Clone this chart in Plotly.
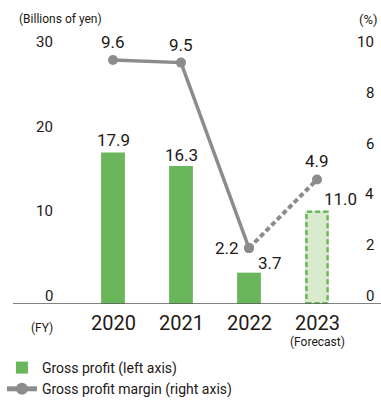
import plotly.graph_objects as go

# ---- data ----
years = ["2020", "2021", "2022", "2023"]
gross_profit = [17.9, 16.3, 3.7, 11.0]          # billions of yen (2023 = forecast)
gross_margin = [9.6, 9.5, 2.2, 4.9]             # %
left_ticks = [0, 10, 20, 30]
right_ticks = [0, 2, 4, 6, 8, 10]

# ---- style ----
GREEN = "#6ab65a"
GREEN_LIGHT = "#d9eacf"
GREY = "#8c8c8c"
TEXT = "#231815"
FONT = "Liberation Sans Narrow, Arial Narrow, Roboto, sans-serif"

W, H = 381, 400
M_L, M_R, M_T, M_B = 13, 0, 40, 96
PX_PER_UNIT = 8.47                       # pixels per billion yen
plot_h = H - M_T - M_B
plot_w = W - M_L - M_R
y_top = plot_h / PX_PER_UNIT
slot = 68                                # pixels between categories
x_lo = -(113 - M_L) / slot
x_hi = x_lo + plot_w / slot
bar_w = 0.35
idx = list(range(len(years)))

# label offsets (pixels) for value labels
bar_lbl_dx = [0, 0, 21, 23]
bar_lbl_dy = [12, 11, 10, 12]
line_lbl_dx = [0, 0, -22, 0]
line_lbl_dy = [18, 18, 0, 18]

fig = go.Figure()

# actual gross profit bars
fig.add_trace(go.Bar(
    x=idx[:3], y=gross_profit[:3], width=bar_w,
    marker=dict(color=GREEN, line=dict(width=0)),
    name="Gross profit (left axis)", yaxis="y",
))
# forecast bar (light fill, dashed outline drawn as a shape)
fig.add_trace(go.Bar(
    x=idx[3:], y=gross_profit[3:], width=bar_w,
    marker=dict(color=GREEN_LIGHT, line=dict(width=0)),
    showlegend=False, yaxis="y",
))
fig.add_shape(
    type="rect", xref="x", yref="y",
    x0=idx[3] - bar_w / 2 + 0.02, x1=idx[3] + bar_w / 2 - 0.02, y0=0.1, y1=gross_profit[3] - 0.1,
    line=dict(color=GREEN, width=2.5, dash="5px,3px"),
)

# gross profit margin: actuals solid, forecast segment dashed
fig.add_trace(go.Scatter(
    x=idx[2:], y=gross_margin[2:], yaxis="y2", mode="lines+markers",
    line=dict(color=GREY, width=4, dash="5px,3px"),
    marker=dict(color=GREY, size=10), showlegend=False, cliponaxis=False,
))
fig.add_trace(go.Scatter(
    x=idx[:3], y=gross_margin[:3], yaxis="y2", mode="lines+markers",
    line=dict(color=GREY, width=3.5),
    marker=dict(color=GREY, size=10),
    name="Gross profit margin (right axis)", cliponaxis=False,
))

ann = []
# value labels
for i, v in enumerate(gross_profit):
    ann.append(dict(x=idx[i], y=v, xref="x", yref="y", text=f"{v:.1f}", showarrow=False,
                    xshift=bar_lbl_dx[i], yshift=bar_lbl_dy[i], yanchor="middle",
                    font=dict(size=17, color=TEXT)))
for i, v in enumerate(gross_margin):
    ann.append(dict(x=idx[i], y=v, xref="x", yref="y2", text=f"{v:.1f}", showarrow=False,
                    xshift=line_lbl_dx[i], yshift=line_lbl_dy[i], yanchor="middle",
                    font=dict(size=17, color=TEXT)))
# axis tick labels
for t in left_ticks:
    ann.append(dict(x=(55 - M_L) / plot_w, y=t, xref="paper", yref="y", text=str(t),
                    showarrow=False, xanchor="right", yanchor="middle", yshift=8,
                    font=dict(size=15, color=TEXT)))
for t in right_ticks:
    ann.append(dict(x=(376 - M_L) / plot_w, y=t, xref="paper", yref="y2", text=str(t),
                    showarrow=False, xanchor="right", yanchor="middle", yshift=8,
                    font=dict(size=15, color=TEXT)))
# year labels
for i, yr in enumerate(years):
    ann.append(dict(x=idx[i], y=0, xref="x", yref="paper", text=yr, showarrow=False,
                    yanchor="middle", yshift=-19, font=dict(size=20, color=TEXT)))
ann.append(dict(x=idx[3], y=0, xref="x", yref="paper", text="(Forecast)", showarrow=False,
                yanchor="middle", yshift=-38, font=dict(size=12, color=TEXT)))
ann.append(dict(x=(29 - M_L) / plot_w, y=0, xref="paper", yref="paper", text="(FY)",
                showarrow=False, yanchor="middle", yshift=-24, font=dict(size=12, color=TEXT)))
# unit labels
ann.append(dict(x=(17 - M_L) / plot_w, y=1, xref="paper", yref="paper", text="(Billions of yen)",
                showarrow=False, xanchor="left", yanchor="middle", yshift=M_T - 19,
                font=dict(size=12, color=TEXT)))
ann.append(dict(x=(380 - M_L) / plot_w, y=1, xref="paper", yref="paper", text="(%)",
                showarrow=False, xanchor="right", yanchor="middle", yshift=M_T - 19,
                font=dict(size=13, color=TEXT)))

# baseline
fig.add_shape(type="line", xref="paper", yref="y", x0=0, x1=1, y0=0, y1=0,
              line=dict(color="#595757", width=1.5), layer="above")

fig.update_layout(
    width=W, height=H,
    margin=dict(l=M_L, r=M_R, t=M_T, b=M_B, autoexpand=False),
    paper_bgcolor="white", plot_bgcolor="white",
    font=dict(family=FONT, color=TEXT),
    barmode="overlay",
    xaxis=dict(range=[x_lo, x_hi], showticklabels=False,
               showgrid=False, zeroline=False, showline=False, ticks=""),
    yaxis=dict(range=[0, y_top], showticklabels=False, showgrid=False,
               zeroline=False, showline=False, ticks=""),
    yaxis2=dict(range=[0, y_top / 3], overlaying="y", side="right", showticklabels=False,
                showgrid=False, zeroline=False, showline=False, ticks=""),
    annotations=ann,
    legend=dict(x=-0.03, y=(0 - (352 - (H - M_B))) / plot_h, xanchor="left", yanchor="top",
                font=dict(size=14, color=TEXT), traceorder="normal",
                bgcolor="rgba(0,0,0,0)", tracegroupgap=0, itemsizing="constant"),
    showlegend=True,
)

fig.write_html("out.html")
